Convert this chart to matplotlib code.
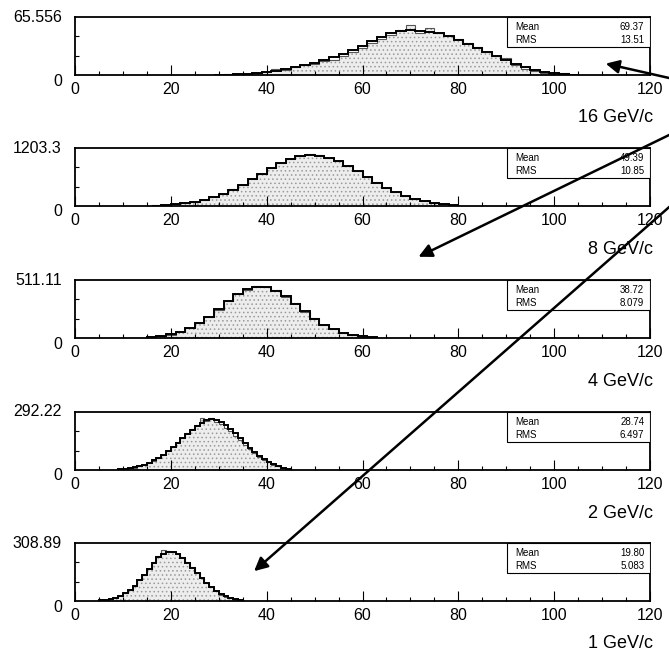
import numpy as np
import matplotlib
matplotlib.use('Agg')
import matplotlib.pyplot as plt
from matplotlib.patches import Rectangle, FancyArrowPatch

plt.rcParams['font.family'] = ['Liberation Sans', 'DejaVu Sans']
plt.rcParams['hatch.linewidth'] = 0.6

# momentum labels and axis maxima, top panel first
momenta = ['16 GeV/c', '8 GeV/c', '4 GeV/c', '2 GeV/c', '1 GeV/c']
ymax = [65.556, 1203.3, 511.11, 292.22, 308.89]
ymax_txt = ['65.556', '1203.3', '511.11', '292.22', '308.89']
means = ['69.37', '49.39', '38.72', '28.74', '19.80']
rms = ['13.51', '10.85', '8.079', '6.497', '5.083']

# first bin edge and bin width of each histogram
start = [29, 16, 15, 9, 5]
width = [2, 2, 2, 1, 1]

# filled (jagged) histograms
filled = [
    [0, 1.0, 1.5, 1.0, 2.5, 3.5, 6.5, 5.5, 9.5, 11.0, 12.5, 15.5, 17.0, 21.0, 26.5, 31.0,
     36.0, 40.5, 45.0, 50.5, 57.0, 47.0, 53.0, 47.0, 44.0, 40.5, 36.0, 31.5, 26.0, 21.5,
     19.0, 11.5, 7.0, 4.0, 2.5, 1.5, 2.0, 0.5],
    [12, 20, 36, 52, 88, 124, 185, 246, 345, 432, 560, 662, 790, 884, 982, 1030,
     1075, 1052, 998, 935, 822, 722, 592, 490, 370, 290, 202, 150, 96, 66, 38, 24],
    [8, 18, 30, 56, 84, 136, 186, 250, 330, 392, 424, 462, 446, 420, 362, 306,
     232, 172, 114, 78, 44, 27, 12, 6],
    [3, 5, 8, 12, 18, 26, 36, 46, 60, 76, 98, 116, 140, 160, 186, 205, 226, 262,
     248, 264, 244, 234, 214, 196, 170, 150, 126, 106, 84, 66, 50, 38, 26, 18, 10, 5],
    [3, 6, 10, 18, 26, 40, 58, 80, 110, 140, 172, 210, 240, 270, 266, 262, 250, 232,
     208, 180, 150, 122, 96, 72, 52, 34, 22, 14, 7, 3],
]

# outline (smooth) histograms
outline = [
    [0, 0.5, 1.0, 1.5, 2.5, 3.5, 5.0, 7.0, 9.0, 11.5, 14.0, 17.0, 20.0, 24.0, 28.5, 33.0,
     38.0, 42.5, 47.0, 49.5, 50.5, 50.0, 49.0, 47.0, 44.0, 40.0, 35.5, 30.5, 26.0, 21.5,
     17.0, 12.5, 8.5, 5.5, 3.5, 2.0, 1.0, 0.5],
    [10, 22, 34, 56, 84, 128, 180, 252, 336, 440, 550, 668, 782, 890, 972, 1032,
     1058, 1046, 1002, 926, 832, 716, 600, 484, 378, 284, 206, 146, 100, 64, 40, 24],
    [9, 17, 31, 54, 86, 132, 189, 255, 322, 384, 430, 453, 449, 418, 367, 303,
     235, 171, 117, 76, 46, 26, 14, 7],
    [3, 5, 9, 13, 19, 27, 37, 48, 62, 78, 96, 116, 138, 160, 182, 204, 222, 238,
     250, 256, 252, 242, 226, 206, 184, 160, 136, 112, 90, 70, 53, 39, 28, 19, 12, 6],
    [3, 6, 11, 18, 28, 42, 60, 82, 110, 140, 172, 204, 232, 252, 262, 260, 248, 228,
     204, 178, 150, 122, 96, 72, 52, 36, 24, 15, 8, 4],
]

W, H = 669, 654
fig = plt.figure(figsize=(W / 100, H / 100), dpi=100)

tops = [17, 148, 280, 412, 543]
ph = 58
for i in range(5):
    ax = fig.add_axes([75 / W, 1 - (tops[i] + ph) / H, 575 / W, ph / H])
    edges = start[i] + width[i] * np.arange(len(filled[i]) + 1)
    ax.stairs(filled[i], edges, fill=True, facecolor='#ededed', edgecolor='#9a9a9a',
              hatch='....', linewidth=0)
    ax.stairs(filled[i], edges, color='#555555', lw=0.8)
    ax.stairs(outline[i], edges, color='black', lw=1.4)
    ax.set_xlim(0, 120)
    ax.set_ylim(0, ymax[i])
    ax.set_xticks(np.arange(0, 121, 20))
    ax.set_xticks(np.arange(0, 121, 5), minor=True)
    ax.set_yticks([])
    ax.set_yticks([ymax[i] / 3, 2 * ymax[i] / 3], minor=True)
    ax.tick_params(axis='x', which='major', direction='in', length=7, width=0.8,
                   labelsize=11.5, pad=5)
    ax.tick_params(axis='x', which='minor', direction='in', length=3, width=0.8)
    ax.tick_params(axis='y', which='minor', direction='in', length=3, width=0.8)
    for s in ax.spines.values():
        s.set_linewidth(1.3)
    ax.annotate(ymax_txt[i], xy=(0, 1), xycoords='axes fraction', xytext=(-13, 0),
                textcoords='offset pixels', ha='right', va='center', fontsize=11.5)
    ax.annotate('0', xy=(0, 0), xycoords='axes fraction', xytext=(-13, -6),
                textcoords='offset pixels', ha='right', va='center', fontsize=11.5)
    ax.annotate(momenta[i], xy=(1, 0), xycoords='axes fraction', xytext=(3, -43),
                textcoords='offset pixels', ha='right', va='center', fontsize=13)
    # stats box
    ax.add_patch(Rectangle((0.751, 0.48), 0.249, 0.52, transform=ax.transAxes,
                           facecolor='white', edgecolor='black', lw=0.8, zorder=5))
    ax.text(0.765, 0.82, 'Mean', transform=ax.transAxes, fontsize=7, va='center', zorder=6)
    ax.text(0.99, 0.82, means[i], transform=ax.transAxes, fontsize=7, va='center',
            ha='right', zorder=6)
    ax.text(0.765, 0.60, 'RMS', transform=ax.transAxes, fontsize=7, va='center', zorder=6)
    ax.text(0.99, 0.60, rms[i], transform=ax.transAxes, fontsize=7, va='center',
            ha='right', zorder=6)

# arrows coming in from the right edge (pixel coords, y from top)
arrows = [((700, 85), (603, 63)), ((700, 120), (416, 258)), ((700, 180), (252, 573))]
for (x0, y0), (x1, y1) in arrows:
    a = FancyArrowPatch((x0 / W, 1 - y0 / H), (x1 / W, 1 - y1 / H),
                        transform=fig.transFigure, arrowstyle='-|>', mutation_scale=20,
                        lw=1.8, color='black', zorder=10)
    fig.add_artist(a)

fig.savefig('out.png', dpi=100)
